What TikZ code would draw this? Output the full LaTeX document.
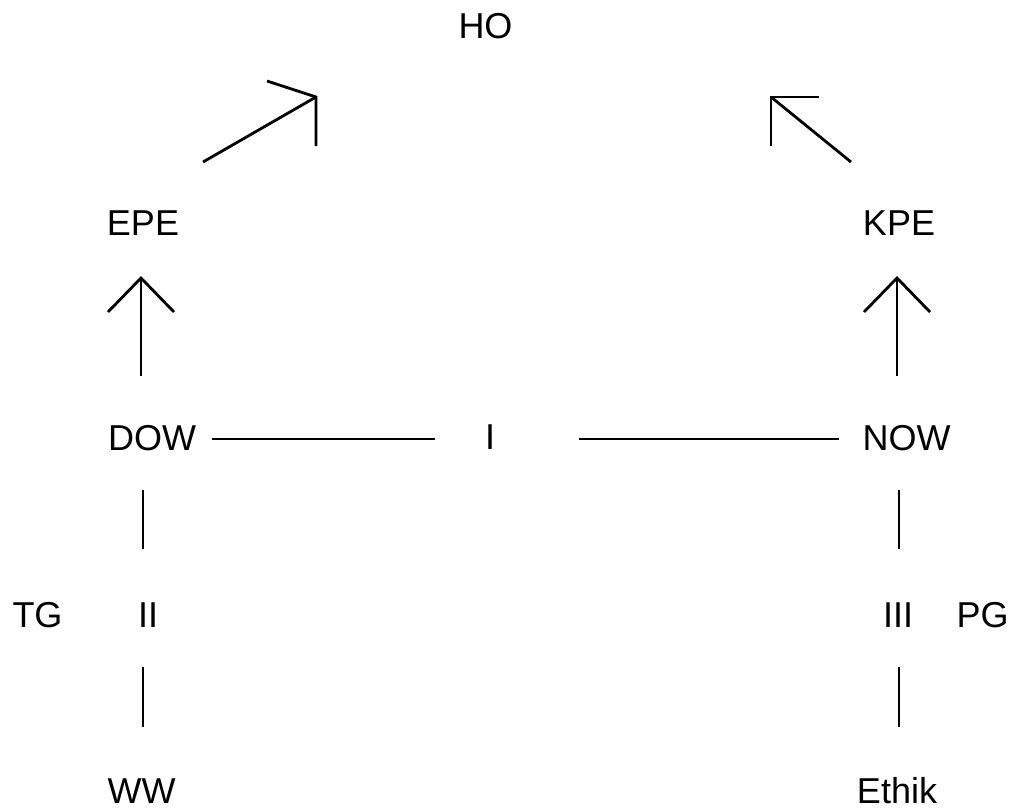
\documentclass[tikz,border=0pt]{standalone}
\usepackage{fontspec}
\setmainfont{Liberation Sans}
\begin{document}
\begin{tikzpicture}[x=1pt,y=-1pt,
  lbl/.style={anchor=base,inner sep=0pt,font=\fontsize{36}{40}\selectfont},
  stroke/.style={line width=2.8pt,black}]
\useasboundingbox (0,0) rectangle (1016,809);
% labels
\node[lbl] (HO) at (485.5,38) {HO};
\node[lbl] (EPE) at (143,235) {EPE};
\node[lbl] (KPE) at (899,235) {KPE};
\node[lbl] (DOW) at (152,450) {DOW};
\node[lbl] (I) at (490,449) {I};
\node[lbl] (NOW) at (906.5,450) {NOW};
\node[lbl] (TG) at (37.5,627) {TG};
\node[lbl] (II) at (148,627) {II};
\node[lbl] (III) at (898,627) {III};
\node[lbl] (PG) at (982.5,627) {PG};
\node[lbl] (WW) at (141.5,803) {WW};
\node[lbl] (Ethik) at (897,803) {Ethik};
% coordinates
\coordinate (la0) at (203,162); \coordinate (la1) at (316,97);
\coordinate (la2) at (267,81); \coordinate (la3) at (316,146);
\coordinate (ra0) at (851,162); \coordinate (ra1) at (771,97);
\coordinate (ra2) at (819,97); \coordinate (ra3) at (771,146);
\coordinate (ea0) at (141,376); \coordinate (ea1) at (141,278);
\coordinate (ea2) at (108,312); \coordinate (ea3) at (174,312);
\coordinate (ka0) at (897,376); \coordinate (ka1) at (897,278);
\coordinate (ka2) at (864,312); \coordinate (ka3) at (930,312);
\coordinate (h1) at (212,439); \coordinate (h2) at (435,439);
\coordinate (h3) at (579,439); \coordinate (h4) at (839,439);
\coordinate (v1) at (143,490); \coordinate (v2) at (143,549);
\coordinate (v3) at (143,667); \coordinate (v4) at (143,727);
\coordinate (w1) at (899,490); \coordinate (w2) at (899,549);
\coordinate (w3) at (899,667); \coordinate (w4) at (899,727);
% strokes
\draw[stroke] (la0) -- (la1);
\draw[stroke] (la2) -- (la1) -- (la3);
\draw[stroke] (ra0) -- (ra1);
\draw[stroke] (ra2) -- (ra1) -- (ra3);
\draw[stroke] (ea0) -- (ea1);
\draw[stroke] (ea2) -- (ea1) -- (ea3);
\draw[stroke] (ka0) -- (ka1);
\draw[stroke] (ka2) -- (ka1) -- (ka3);
\draw[stroke] (h1) -- (h2);
\draw[stroke] (h3) -- (h4);
\draw[stroke] (v1) -- (v2);
\draw[stroke] (v3) -- (v4);
\draw[stroke] (w1) -- (w2);
\draw[stroke] (w3) -- (w4);
\end{tikzpicture}
\end{document}
